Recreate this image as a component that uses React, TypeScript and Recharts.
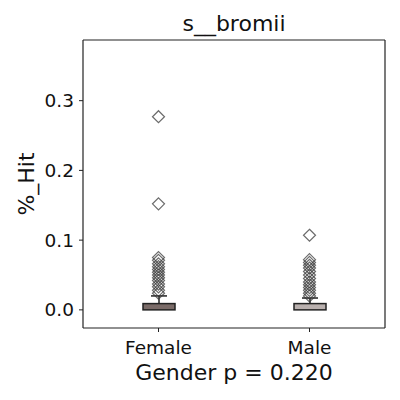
import React from 'react';
import { ComposedChart, Bar, Scatter, XAxis, YAxis } from 'recharts';

const categories = ['Female', 'Male'];
const q1 = [0.0, 0.0];
const q3 = [0.009, 0.009];
const whiskerHigh = [0.02, 0.017];
const boxColors = ['#7a6b68', '#b9b0ae'];
const femaleOutliers = [0.277, 0.152, 0.075, 0.071, 0.066, 0.062, 0.058, 0.054, 0.05, 0.046, 0.042, 0.037, 0.033, 0.028, 0.024];
const maleOutliers = [0.107, 0.072, 0.068, 0.064, 0.06, 0.055, 0.05, 0.045, 0.04, 0.036, 0.032, 0.028, 0.024, 0.02];
const yTicks = [0, 0.1, 0.2, 0.3];

const boxData = categories.map((g, i) => ({
  g,
  box: [q1[i], q3[i]],
  whisker: [q3[i], whiskerHigh[i]],
  color: boxColors[i],
}));
const femaleData = femaleOutliers.map((v) => ({ g: 'Female', v }));
const maleData = maleOutliers.map((v) => ({ g: 'Male', v }));

const FONT = 'DejaVu Sans, sans-serif';
const DOMAIN: [number, number] = [-0.026, 0.387];

const BoxShape = (props: any) => {
  const { x, y, width, height, payload } = props;
  return (
    <rect x={x} y={y} width={width} height={Math.max(height, 0)} fill={payload.color} stroke="#222" strokeWidth={1.5} />
  );
};

const WhiskerShape = (props: any) => {
  const { x, y, width, height } = props;
  const cx = x + width / 2;
  const capHalf = width / 4;
  return (
    <g>
      <line x1={cx} x2={cx} y1={y} y2={y + height} stroke="#222" strokeWidth={1.5} />
      <line x1={cx - capHalf} x2={cx + capHalf} y1={y} y2={y} stroke="#222" strokeWidth={1.5} />
    </g>
  );
};

const Diamond = (props: any) => {
  const { cx, cy } = props;
  const r = 6;
  return (
    <polygon
      points={`${cx},${cy - r} ${cx + r},${cy} ${cx},${cy + r} ${cx - r},${cy}`}
      fill="none"
      stroke="#3a3a3a"
      strokeOpacity={0.75}
      strokeWidth={1.2}
    />
  );
};

const Nothing = () => <g />;

export default function App() {
  return (
    <div style={{ position: 'absolute', left: 0, top: 0, width: 400, height: 400, background: '#fff' }}>
      <ComposedChart
        width={400}
        height={400}
        data={boxData}
        margin={{ top: 39, right: 14, bottom: 0, left: 0 }}
      >
        <XAxis
          xAxisId="main"
          dataKey="g"
          type="category"
          allowDuplicatedCategory={false}
          height={72}
          tickSize={4}
          tickMargin={9}
          tick={{ fill: '#111', fontSize: 18.5, fontFamily: FONT }}
          axisLine={{ stroke: '#222', strokeWidth: 1.2 }}
          tickLine={{ stroke: '#222' }}
          label={{
            content: (p: any) => {
              const vb = p.viewBox;
              return (
                <text x={vb.x + vb.width / 2} y={vb.y + 52} textAnchor="middle" fontSize={22} fontFamily={FONT} fill="#111">
                  Gender p = 0.220
                </text>
              );
            },
          }}
        />
        <XAxis xAxisId="w" dataKey="g" type="category" allowDuplicatedCategory={false} hide />
        <XAxis
          xAxisId="top"
          orientation="top"
          dataKey="g"
          type="category"
          allowDuplicatedCategory={false}
          height={1}
          tick={false}
          tickLine={false}
          axisLine={{ stroke: '#222', strokeWidth: 1.2 }}
          label={{
            content: (p: any) => {
              const vb = p.viewBox;
              return (
                <text x={vb.x + vb.width / 2} y={31} textAnchor="middle" fontSize={22} fontFamily={FONT} fill="#111">
                  s__bromii
                </text>
              );
            },
          }}
        />
        <YAxis
          yAxisId="left"
          type="number"
          domain={DOMAIN}
          ticks={yTicks}
          width={83}
          tickSize={4}
          tickMargin={5}
          tickFormatter={(v: number) => v.toFixed(1)}
          tick={{ fill: '#111', fontSize: 18.5, fontFamily: FONT }}
          axisLine={{ stroke: '#222', strokeWidth: 1.2 }}
          tickLine={{ stroke: '#222' }}
          allowDataOverflow
          label={{
            content: (p: any) => {
              const vb = p.viewBox;
              const x = vb.x + 26;
              const y = vb.y + vb.height / 2;
              return (
                <text x={x} y={y} transform={`rotate(-90 ${x} ${y})`} textAnchor="middle" dominantBaseline="central" fontSize={22} fontFamily={FONT} fill="#111">
                  %_Hit
                </text>
              );
            },
          }}
        />
        <YAxis
          yAxisId="right"
          orientation="right"
          type="number"
          domain={DOMAIN}
          allowDataOverflow
          width={1}
          tick={false}
          tickLine={false}
          axisLine={{ stroke: '#222', strokeWidth: 1.2 }}
        />
        <Bar xAxisId="w" yAxisId="left" dataKey="whisker" barSize={32} shape={WhiskerShape} isAnimationActive={false} />
        <Bar xAxisId="main" yAxisId="left" dataKey="box" barSize={32} shape={BoxShape} isAnimationActive={false} />
        <Scatter xAxisId="main" yAxisId="left" data={femaleData} dataKey="v" shape={Diamond} isAnimationActive={false} />
        <Scatter xAxisId="main" yAxisId="left" data={maleData} dataKey="v" shape={Diamond} isAnimationActive={false} />
        <Scatter xAxisId="top" yAxisId="right" data={maleData} dataKey="v" shape={Nothing} isAnimationActive={false} />
      </ComposedChart>
    </div>
  );
}
